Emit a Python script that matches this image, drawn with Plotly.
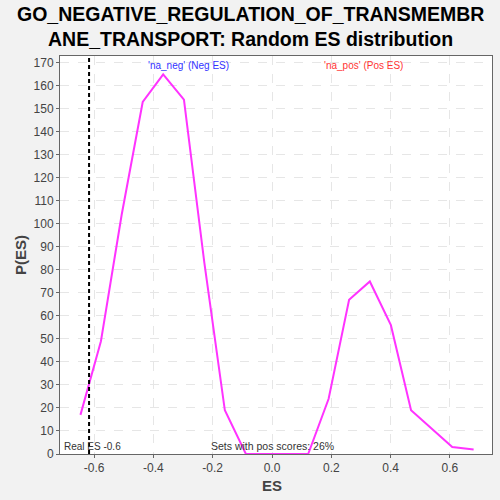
import plotly.graph_objects as go

es_values = [-0.646, -0.577, -0.507, -0.436, -0.367, -0.297, -0.228, -0.159, -0.088,
             -0.019, 0.052, 0.122, 0.191, 0.260, 0.330, 0.401, 0.469, 0.539, 0.608, 0.680]
p_es = [17, 49, 104, 153, 165, 154, 83, 19, 0, 0, 0, 0, 24, 67, 75, 56, 19, 11, 3, 2]
real_es = -0.617
title_lines = ["GO_NEGATIVE_REGULATION_OF_TRANSMEMBR", "ANE_TRANSPORT: Random ES distribution"]
x_ticks = [-0.6, -0.4, -0.2, 0.0, 0.2, 0.4, 0.6]
y_ticks = list(range(0, 171, 10))

FONT = "Liberation Sans"
W, H = 500, 500
L, R, T, B = 60, 492, 56, 454


def py(px):
    return (B - px) / (B - T)


def pxx(px):
    return (px - L) / (R - L)


fig = go.Figure()
fig.add_trace(go.Scatter(x=es_values, y=p_es, mode="lines",
                         line=dict(color="#ff33ff", width=2), showlegend=False))
fig.add_shape(type="line", x0=real_es, x1=real_es, y0=0, y1=1, yref="paper",
              line=dict(color="black", width=2, dash="4px,3px"))

fig.add_annotation(x=-0.28, y=0.995, xref="x", yref="paper", yanchor="top", showarrow=False,
                   text="'na_neg' (Neg ES)", font=dict(size=10, color="#3333ff", family=FONT))
fig.add_annotation(x=0.31, y=0.995, xref="x", yref="paper", yanchor="top", showarrow=False,
                   text="'na_pos' (Pos ES)", font=dict(size=10, color="#ff3333", family=FONT))
fig.add_annotation(x=0.005, y=0, xref="paper", yref="paper", xanchor="left", yanchor="bottom",
                   showarrow=False, text="Real ES -0.6",
                   font=dict(size=10, color="#333333", family=FONT))
fig.add_annotation(x=0.0, y=0, xref="x", yref="paper", xanchor="center", yanchor="bottom",
                   showarrow=False, text="Sets with pos scores: 26%",
                   font=dict(size=10.5, color="#333333", family=FONT))
for i, line in enumerate(title_lines):
    fig.add_annotation(x=pxx(250), y=py(14 + 25 * i), xref="paper", yref="paper",
                       xanchor="center", yanchor="middle", showarrow=False,
                       text="<b>" + line + "</b>", font=dict(size=19.5, color="black", family=FONT))
fig.add_annotation(x=0.0, y=py(486), xref="x", yref="paper", xanchor="center", yanchor="middle",
                   showarrow=False, text="<b>ES</b>", font=dict(size=15, color="#444444", family=FONT))
fig.add_annotation(x=pxx(20), y=py(255), xref="paper", yref="paper", xanchor="center",
                   yanchor="middle", textangle=-90, showarrow=False, text="<b>P(ES)</b>",
                   font=dict(size=15, color="#444444", family=FONT))

fig.update_layout(
    width=W, height=H,
    margin=dict(l=L, r=W - R, t=T, b=H - B, autoexpand=False, pad=0),
    paper_bgcolor="#f2f2f2", plot_bgcolor="white",
    font=dict(family=FONT, color="#444444"),
    xaxis=dict(range=[-0.715, 0.742], tickvals=x_ticks, ticktext=[f"{v:.1f}" for v in x_ticks],
               showgrid=True, gridcolor="#e6e6e6", griddash="dash", zeroline=False,
               showline=True, linecolor="#666666", mirror=True, ticks="outside", ticklen=3,
               tickcolor="#666666", automargin=False, tickfont=dict(size=12, color="#444444")),
    yaxis=dict(range=[0, 173], tickvals=y_ticks, showgrid=True, gridcolor="#e6e6e6",
               griddash="dash", zeroline=False, showline=True, linecolor="#666666", mirror=True,
               ticks="outside", ticklen=3, tickcolor="#666666", automargin=False,
               tickfont=dict(size=12, color="#444444")),
)
fig.write_html("out.html", config={"displayModeBar": False},
               post_script="document.body.style.margin='0';document.body.style.background='#f2f2f2';")
